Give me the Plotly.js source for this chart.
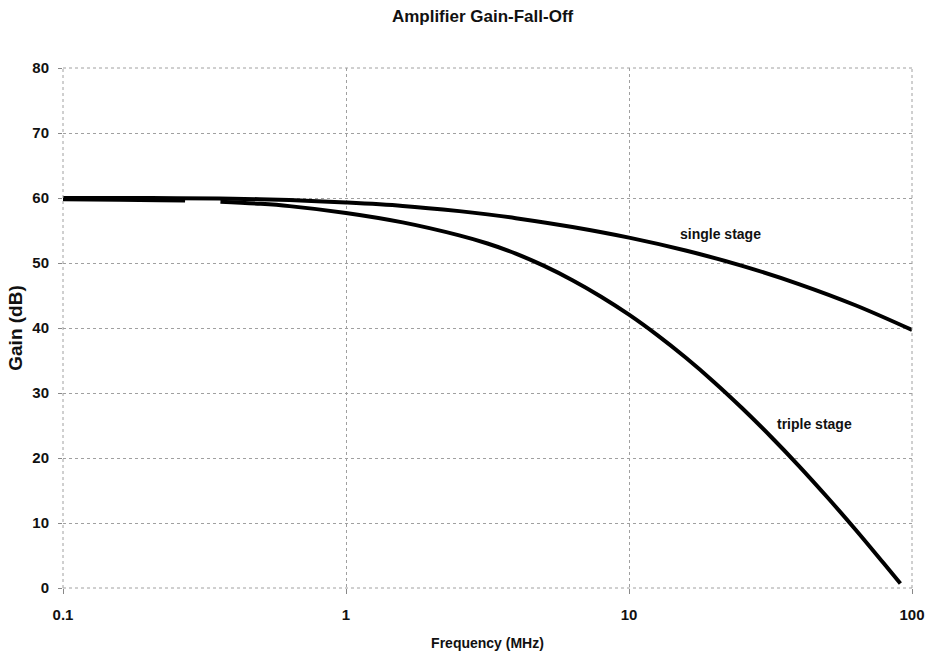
<!DOCTYPE html>
<html>
<head>
<meta charset="utf-8">
<script src="https://cdn.plot.ly/plotly-3.0.1.min.js"></script>
<style>html,body{margin:0;padding:0;background:#fff;}#chart{width:937px;height:652px;}</style>
</head>
<body>
<div id="chart"></div>
<script>
// Frequency (MHz) and gain (dB)
var singleFreq = [0.1, 0.158, 0.251, 0.398, 0.631, 1, 1.585, 2.512, 3.162, 3.981, 6.31, 10, 15.85, 25.12, 39.81, 63.1, 100];
var singleGain = [60, 60, 59.98, 59.9, 59.68, 59.3, 58.78, 57.98, 57.48, 56.9, 55.54, 53.9, 51.92, 49.56, 46.76, 43.5, 39.7];

var tripleFreq = [0.1, 0.158, 0.22, 0.27, 0.31, 0.36, 0.5, 0.631, 1, 1.585, 2.512, 3.162, 3.981, 5.012, 6.31, 7.943, 10, 12.59, 15.85, 19.95, 25.12, 31.62, 39.81, 50.12, 63.1, 79.43, 91];
var tripleGain = [59.8, 59.75, 59.65, 59.6, null, 59.42, 59.1, 58.75, 57.7, 56.25, 54.25, 53.0, 51.45, 49.55, 47.35, 44.85, 42.05, 38.9, 35.45, 31.7, 27.65, 23.35, 18.8, 14.0, 9.0, 3.8, 0.7];

var xTickVals = [0.1, 1, 10, 100];
var xTickText = ["0.1", "1", "10", "100"];
var yTickVals = [0, 10, 20, 30, 40, 50, 60, 70, 80];

var labelText = ["single stage", "triple stage"];
var labelFreq = [21.0, 45.3];
var labelGain = [54.5, 25.2];

var font = "'Liberation Sans', Arial, sans-serif";

var traces = [
  {x: singleFreq, y: singleGain, mode: "lines", line: {color: "#000", width: 4, shape: "spline", smoothing: 1}, name: "single stage", hoverinfo: "skip"},
  {x: tripleFreq, y: tripleGain, mode: "lines", line: {color: "#000", width: 4, shape: "spline", smoothing: 1}, name: "triple stage", connectgaps: false, hoverinfo: "skip"}
];

var annotations = labelText.map(function (t, i) {
  return {x: Math.log10(labelFreq[i]), y: labelGain[i], xref: "x", yref: "y", text: "<b>" + t + "</b>",
    showarrow: false, font: {family: font, size: 14, color: "#111"}};
});

var layout = {
  width: 937, height: 652,
  paper_bgcolor: "#fff", plot_bgcolor: "#fff",
  margin: {l: 63, r: 25, t: 68, b: 64},
  showlegend: false,
  title: {text: "<b>Amplifier Gain-Fall-Off</b>", x: 0.515, xanchor: "center", y: 0.985, yanchor: "top",
    font: {family: font, size: 17, color: "#111"}},
  xaxis: {
    type: "log", range: [-1, 2],
    tickvals: xTickVals, ticktext: xTickText,
    showgrid: true, gridcolor: "#a0a0a0", griddash: "dot", gridwidth: 1,
    zeroline: false, showline: false,
    ticks: "outside", ticklen: 5, tickcolor: "#888", ticklabelstandoff: 8,
    tickfont: {family: font, size: 15, color: "#111", weight: "bold"},
    title: {text: "<b>Frequency (MHz)</b>", standoff: 16, font: {family: font, size: 14, color: "#111"}}
  },
  yaxis: {
    range: [0, 80],
    tickvals: yTickVals,
    showgrid: true, gridcolor: "#a0a0a0", griddash: "dot", gridwidth: 1,
    zeroline: false, showline: false,
    ticks: "outside", ticklen: 4, tickcolor: "#888", ticklabelstandoff: 6,
    tickfont: {family: font, size: 15, color: "#111", weight: "bold"},
    title: {text: "<b>Gain (dB)</b>", standoff: 4, font: {family: font, size: 19, color: "#111"}}
  },
  annotations: annotations,
  shapes: [
    {type: "line", xref: "paper", yref: "paper", x0: 0, x1: 0, y0: 0, y1: 1, line: {color: "#a0a0a0", width: 1, dash: "dot"}},
    {type: "line", xref: "paper", yref: "paper", x0: 0, x1: 1, y0: 0, y1: 0, line: {color: "#a0a0a0", width: 1, dash: "dot"}},
    {type: "line", xref: "paper", yref: "paper", x0: 1, x1: 1, y0: 0, y1: 1, line: {color: "#a0a0a0", width: 1, dash: "dot"}},
    {type: "line", xref: "paper", yref: "paper", x0: 0, x1: 1, y0: 1, y1: 1, line: {color: "#a0a0a0", width: 1, dash: "dot"}}
  ]
};

Plotly.newPlot("chart", traces, layout, {staticPlot: true, displayModeBar: false});
</script>
</body>
</html>
